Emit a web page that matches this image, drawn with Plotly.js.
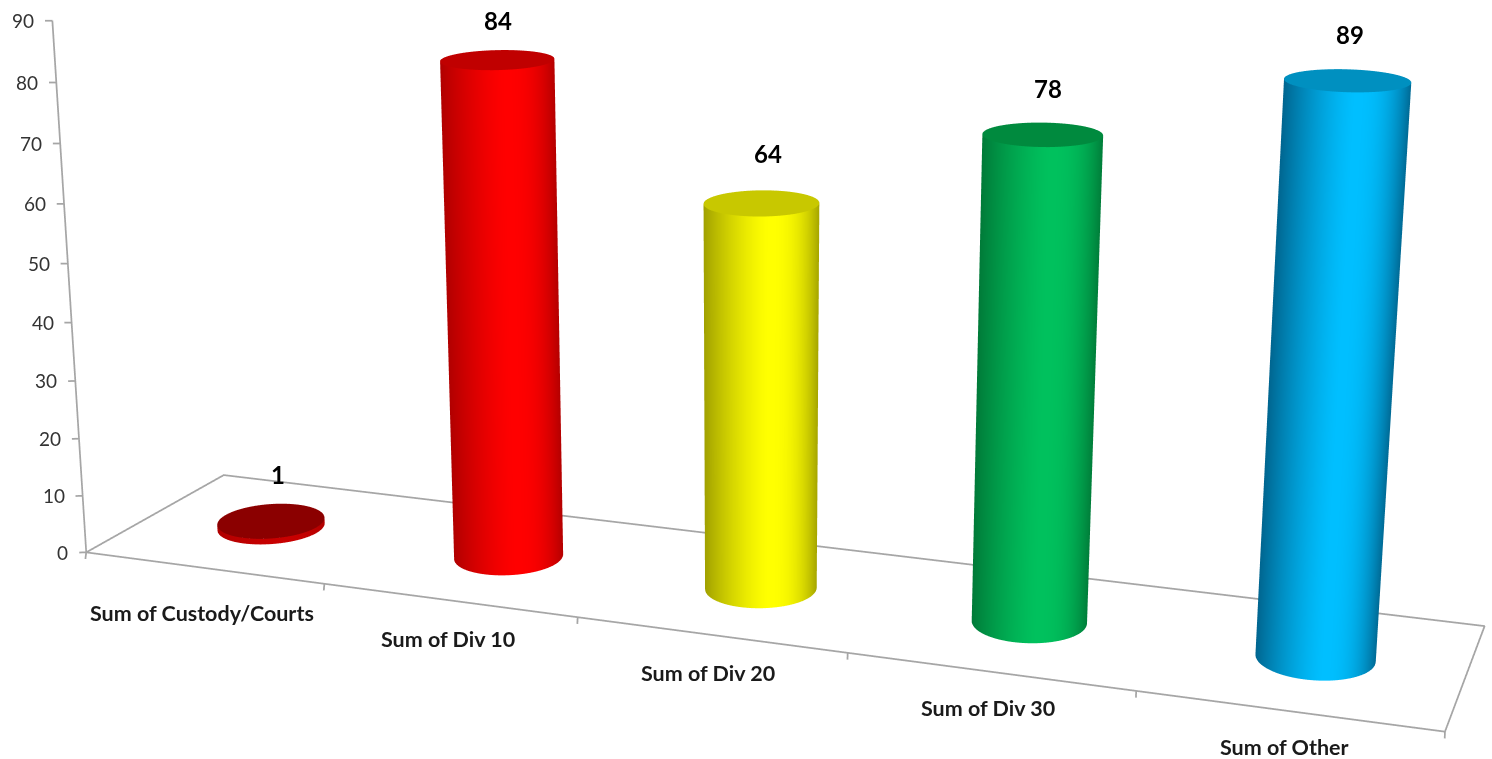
<!DOCTYPE html>
<html><head><meta charset="utf-8"><script src="https://cdn.plot.ly/plotly-3.0.1.min.js"></script>
<style>
html,body{margin:0;width:1492px;height:759px;overflow:hidden;background:#fff}
/* The scene's fixed 45 degree lens needs a tall canvas to reach the chart's long focal length. */
#c{position:absolute;left:0;top:-855px;width:1492px;height:2469px}
</style></head><body><div id="c"></div>
<script>
const categories=['Sum of Custody/Courts','Sum of Div 10','Sum of Div 20','Sum of Div 30','Sum of Other'];
const values=[1,84,64,78,89];
const valueTicks=[0,10,20,30,40,50,60,70,80,90];
// Side shading runs dark, bright, dark from left to right; each cap has one flat tone.
const sideDark=['#b00000','#b00000','#a0a000','#007a38','#00658f'];
const sideBright=['#c80000','#ff0000','#ffff00','#00c15d','#00bfff'];
const capTone=['#8b0000','#c00000','#c8c800','#008a3e','#0090c0'];
const gridGrey='#a6a6a6';
const radiusX=0.2, radiusY=0.21, segments=96;
const eye={x:3.47826,y:-9.54146,z:2.65595};

// u runs from -1 at a column's left silhouette to +1 at its right silhouette.
function shade(u){
  const peak=0.15;
  return u<peak ? 1-Math.pow((peak-u)/(1+peak),1.4) : 1-0.95*Math.pow((u-peak)/(1-peak),2.5);
}
const traces=[];
categories.forEach((name,i)=>{
  const cx=i+0.5,cy=0.5,h=values[i];
  const dx=(cx-2.5)-eye.x,dy=-eye.y,len=Math.hypot(dx,dy);
  const sx=[],sy=[],sz=[],sc=[];
  const tx=[],ty=[],tz=[],tc=[];
  for(let k=0;k<=segments;k++){
    const a=k/segments*2*Math.PI,c=Math.cos(a),s=Math.sin(a);
    sx.push([cx+radiusX*c,cx+radiusX*c]);sy.push([cy+radiusY*s,cy+radiusY*s]);sz.push([0,h]);
    const t=shade((c*dy-s*dx)/len);sc.push([t,t]);
    tx.push([cx,cx+radiusX*c]);ty.push([cy,cy+radiusY*s]);tz.push([h,h]);tc.push([0,0]);
  }
  const flat={ambient:1,diffuse:0,specular:0,fresnel:0,roughness:1};
  traces.push({type:'surface',name,x:sx,y:sy,z:sz,surfacecolor:sc,cmin:0,cmax:1,showscale:false,hoverinfo:'skip',lighting:flat,
    colorscale:[[0,sideDark[i]],[1,sideBright[i]]]});
  traces.push({type:'surface',name,x:tx,y:ty,z:tz,surfacecolor:tc,cmin:0,cmax:1,showscale:false,hoverinfo:'skip',lighting:flat,
    colorscale:[[0,capTone[i]],[1,capTone[i]]]});
});

// Floor outline, value axis and the short tick marks on both.
const line={color:gridGrey,width:3.5};
const guide=(x,y,z)=>({type:'scatter3d',mode:'lines',x,y,z,line,hoverinfo:'skip',showlegend:false});
traces.push(guide([0,0,5,5,0],[0,1,1,0,0],[0,0,0,0,0]));
traces.push(guide([0,0],[0,0],[0,valueTicks[valueTicks.length-1]]));
valueTicks.forEach(v=>traces.push(guide([0,-0.024],[0,-0.01],[v,v])));
categories.concat(['']).forEach((_,i)=>traces.push(guide([i,i+0.038-0.00624*i],[0,-0.0647+0.0018*i],[0,0])));

const labelFont='Lato, "Noto Sans", sans-serif';
const categoryShiftX=[-1,-1,-3,-2,-3], categoryShiftY=[-45,-39,-38,-36,-36];
const valueShiftX=[9,2,6,4,0], valueShiftY=[5,-7,3,-3,-6];
const annotations=[];
valueTicks.forEach(v=>annotations.push({x:0,y:0,z:v,text:String(v),showarrow:false,xanchor:'right',yanchor:'middle',xshift:-16,
  font:{family:labelFont,size:19,color:'#333'}}));
categories.forEach((name,i)=>annotations.push({x:i+0.5,y:0,z:0,text:'<b>'+name+'</b>',showarrow:false,xshift:categoryShiftX[i],yshift:categoryShiftY[i],
  font:{family:labelFont,size:21.5,color:'#1a1a1a'}}));
values.forEach((v,i)=>annotations.push({x:i+0.5,y:0.5,z:v+7.5,text:'<b>'+v+'</b>',showarrow:false,xshift:valueShiftX[i],yshift:valueShiftY[i],
  font:{family:labelFont,size:24,color:'#000'}}));

const hidden=(range)=>({visible:false,range,autorange:false,showspikes:false});
Plotly.newPlot('c',traces,{
  width:1492,height:2469,margin:{l:0,r:0,t:0,b:0},paper_bgcolor:'#fff',showlegend:false,
  scene:{domain:{x:[0,1],y:[0,1]},aspectmode:'manual',aspectratio:{x:5.4,y:1.4239,z:2.442},
    camera:{eye,center:{x:0.13466,y:-0.51866,z:-0.06565},up:{x:0,y:0,z:1}},
    xaxis:hidden([-0.2,5.2]),yaxis:hidden([-0.2,1.2]),zaxis:hidden([-10,100]),annotations}
},{displayModeBar:false});
</script></body></html>
